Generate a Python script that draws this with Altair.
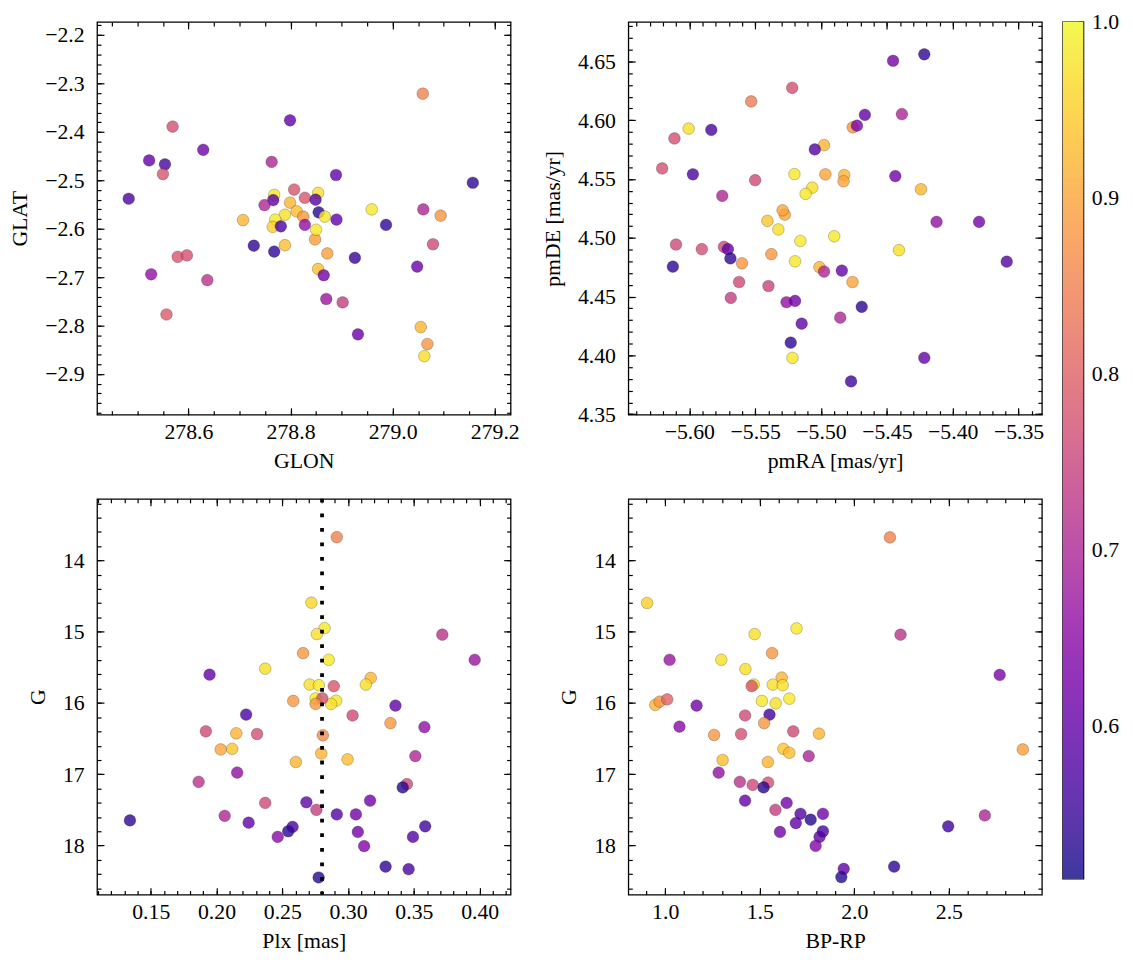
import math
import altair as alt
import pandas as pd

FONT = "Liberation Serif"
FS = 22
PROB_DOMAIN = [0.513, 1.0]

# ---------------- Top-left: GLON / GLAT ----------------
tl_glon = [278.569, 278.629, 278.523, 278.554, 278.550, 278.483, 278.799, 278.763, 278.579, 278.597,
           278.527, 278.637, 278.557, 278.707, 278.728, 278.768, 278.789, 278.768, 278.766, 278.749,
           278.807, 278.799, 278.789, 278.770, 278.765, 278.781, 278.812, 278.828, 278.825, 278.828,
           278.854, 278.849, 278.855, 278.867, 278.889, 278.890, 278.959, 278.987, 279.059, 279.157,
           279.060, 279.094, 279.079, 278.926, 279.048, 278.854, 278.865, 278.872, 278.848, 278.850,
           278.870, 278.902, 278.932, 279.055, 279.068, 279.062]
tl_glat = [-2.389, -2.437, -2.459, -2.467, -2.487, -2.538, -2.376, -2.462, -2.658, -2.655,
           -2.694, -2.706, -2.777, -2.582, -2.635, -2.647, -2.634, -2.530, -2.541, -2.551,
           -2.519, -2.546, -2.571, -2.581, -2.596, -2.595, -2.564, -2.536, -2.575, -2.592,
           -2.526, -2.540, -2.566, -2.575, -2.489, -2.581, -2.560, -2.592, -2.321, -2.505,
           -2.560, -2.573, -2.632, -2.660, -2.678, -2.683, -2.696, -2.651, -2.622, -2.602,
           -2.745, -2.752, -2.818, -2.803, -2.838, -2.863]
tl_prob = [0.77, 0.62, 0.60, 0.57, 0.78, 0.57, 0.60, 0.70, 0.78, 0.77,
           0.66, 0.72, 0.79, 0.92, 0.54, 0.54, 0.93, 0.98, 0.59, 0.70,
           0.78, 0.92, 0.97, 0.98, 0.95, 0.57, 0.93, 0.78, 0.88, 0.66,
           0.97, 0.58, 0.53, 0.98, 0.60, 0.60, 0.98, 0.54, 0.85, 0.54,
           0.70, 0.88, 0.76, 0.55, 0.61, 0.93, 0.62, 0.89, 0.89, 0.98,
           0.67, 0.74, 0.61, 0.92, 0.88, 0.97]

# ---------------- Top-right: pmRA / pmDE ----------------
tr_pmra = [-5.5219, -5.5530, -5.6005, -5.5833, -5.6113, -5.4977, -5.5047, -5.6206, -5.5973, -5.5500,
           -5.5202, -5.4967, -5.5750, -5.5067, -5.5117, -5.5275, -5.5292, -5.5407, -5.5324, -5.5157,
           -5.4900, -5.6101, -5.5905, -5.5737, -5.5707, -5.5688, -5.6125, -5.5600, -5.5377, -5.5197,
           -5.5012, -5.4977, -5.5622, -5.5685, -5.5399, -5.5262, -5.5197, -5.5147, -5.5230, -5.5217,
           -5.4854, -5.4453, -5.4216, -5.4667, -5.4386, -5.4759, -5.4727, -5.4824, -5.4829, -5.4436,
           -5.4241, -5.4123, -5.3800, -5.4408, -5.3590, -5.4842, -5.4761, -5.4691, -5.4216, -5.4772]
tr_pmde = [4.6276, 4.6160, 4.5929, 4.5918, 4.5845, 4.5788, 4.5752, 4.5590, 4.5540, 4.5490,
           4.5542, 4.5540, 4.5357, 4.5427, 4.5374, 4.5197, 4.5234, 4.5144, 4.5071, 4.4973,
           4.5013, 4.4943, 4.4903, 4.4923, 4.4903, 4.4825, 4.4755, 4.4783, 4.4861, 4.4800,
           4.4750, 4.4713, 4.4624, 4.4489, 4.4590, 4.4452, 4.4463, 4.4270, 4.4108, 4.3979,
           4.4321, 4.6506, 4.6561, 4.6046, 4.6052, 4.5940, 4.5954, 4.5534, 4.5481, 4.5525,
           4.5413, 4.5136, 4.5136, 4.4895, 4.4797, 4.4721, 4.4624, 4.4413, 4.3979, 4.3778]
tr_prob = [0.77, 0.84, 0.97, 0.57, 0.77, 0.92, 0.58, 0.77, 0.57, 0.76,
           0.98, 0.90, 0.70, 0.97, 0.98, 0.90, 0.90, 0.94, 0.97, 0.98,
           0.98, 0.76, 0.77, 0.75, 0.60, 0.54, 0.54, 0.88, 0.88, 0.98,
           0.92, 0.70, 0.76, 0.74, 0.75, 0.66, 0.62, 0.60, 0.54, 0.98,
           0.70, 0.62, 0.54, 0.60, 0.70, 0.88, 0.63, 0.92, 0.90, 0.62,
           0.92, 0.66, 0.62, 0.97, 0.58, 0.60, 0.90, 0.54, 0.60, 0.56]

# ---------------- Bottom-left: Plx / G ----------------
bl_plx = [0.1342, 0.1947, 0.2370, 0.2583, 0.2225, 0.1919, 0.2150, 0.2308, 0.2032, 0.2119,
          0.2603, 0.2157, 0.1864, 0.2370, 0.2062, 0.2244, 0.2578, 0.2545, 0.2465, 0.2683,
          0.2914, 0.2721, 0.2821, 0.2763, 0.2658, 0.2853, 0.3716, 0.3962, 0.3172, 0.3135,
          0.2708, 0.2778, 0.2891, 0.2753, 0.2909, 0.2871, 0.2804, 0.2753, 0.3360, 0.3034,
          0.3322, 0.3580, 0.2808, 0.2796, 0.2996, 0.3511, 0.3447, 0.3415, 0.3167, 0.2759,
          0.2914, 0.3059, 0.3586, 0.3074, 0.3493, 0.3122, 0.3285, 0.3460, 0.2776]
bl_g = [17.649, 15.603, 15.519, 15.972, 16.163, 16.399, 16.426, 16.436, 16.653, 16.644,
        16.829, 16.977, 17.107, 17.403, 17.584, 17.681, 17.741, 17.801, 17.880, 17.394,
        13.672, 14.593, 14.950, 15.033, 15.301, 15.394, 15.042, 15.394, 15.649, 15.742,
        15.742, 15.751, 15.764, 15.936, 15.968, 16.014, 15.936, 16.014, 16.037, 16.176,
        16.283, 16.339, 16.454, 16.709, 16.792, 16.746, 17.139, 17.186, 17.371, 17.500,
        17.565, 17.565, 17.732, 17.811, 17.880, 18.010, 18.297, 18.334, 18.450]
bl_prob = [0.54, 0.60, 0.97, 0.88, 0.57, 0.76, 0.92, 0.77, 0.90, 0.94,
           0.92, 0.66, 0.72, 0.76, 0.70, 0.60, 0.57, 0.54, 0.65, 0.60,
           0.85, 0.96, 0.98, 0.97, 0.88, 0.98, 0.72, 0.67, 0.92, 0.97,
           0.97, 0.98, 0.78, 0.98, 0.98, 0.97, 0.77, 0.88, 0.60, 0.76,
           0.88, 0.66, 0.86, 0.92, 0.93, 0.70, 0.76, 0.53, 0.62, 0.74,
           0.58, 0.62, 0.56, 0.62, 0.58, 0.64, 0.54, 0.57, 0.53]
plx_line = [0.2802]

# ---------------- Bottom-right: BP-RP / G ----------------
br_bprp = [0.9042, 1.6944, 1.4730, 1.5651, 1.0230, 1.2967, 1.4239, 1.6159, 1.4678, 1.4573,
           1.5688, 1.6211, 0.9477, 0.9707, 1.0105, 1.1659, 1.5113, 1.5845, 1.6562, 1.5516,
           1.4223, 1.5233, 1.0754, 1.2585, 1.4014, 1.6771, 1.8132, 1.6248, 1.6562, 1.7588,
           1.3035, 1.5427, 1.2826, 1.3946, 1.4626, 1.5442, 1.5202, 1.4223, 1.6421, 1.5829,
           1.7153, 1.8341, 1.7692, 1.6907, 1.6070, 1.8163, 1.8341, 1.7954, 2.1884, 2.2444,
           2.7687, 2.8911, 2.6902, 2.4965, 2.2107, 1.9440, 1.9315]
br_g = [14.597, 14.954, 15.033, 15.301, 15.394, 15.394, 15.524, 15.644, 15.742, 15.764,
        15.742, 15.751, 16.028, 15.982, 15.950, 16.037, 15.972, 16.005, 15.940, 16.163,
        16.176, 16.283, 16.333, 16.450, 16.436, 16.399, 16.431, 16.644, 16.699, 16.746,
        16.801, 16.829, 16.977, 17.107, 17.149, 17.117, 17.186, 17.371, 17.403, 17.500,
        17.556, 17.556, 17.639, 17.686, 17.811, 17.880, 17.801, 18.006, 13.676, 15.042,
        15.607, 16.653, 17.579, 17.732, 18.297, 18.329, 18.444]
br_prob = [0.95, 0.98, 0.97, 0.88, 0.67, 0.97, 0.97, 0.92, 0.97, 0.78,
           0.97, 0.97, 0.92, 0.88, 0.80, 0.62, 0.98, 0.97, 0.98, 0.56,
           0.76, 0.88, 0.65, 0.88, 0.77, 0.76, 0.92, 0.94, 0.93, 0.70,
           0.93, 0.92, 0.66, 0.72, 0.76, 0.77, 0.53, 0.60, 0.62, 0.74,
           0.58, 0.62, 0.53, 0.60, 0.62, 0.60, 0.57, 0.64, 0.85, 0.72,
           0.63, 0.89, 0.70, 0.56, 0.54, 0.60, 0.53]

# ---------------- tick label values ----------------
tl_xticks = [278.6, 278.8, 279.0, 279.2]
tl_yticks = [-2.9, -2.8, -2.7, -2.6, -2.5, -2.4, -2.3, -2.2]
tr_xticks = [-5.60, -5.55, -5.50, -5.45, -5.40, -5.35]
tr_yticks = [4.35, 4.40, 4.45, 4.50, 4.55, 4.60, 4.65]
bl_xticks = [0.15, 0.20, 0.25, 0.30, 0.35, 0.40]
g_ticks = [14, 15, 16, 17, 18]
br_xticks = [1.0, 1.5, 2.0, 2.5]
cb_ticks = [0.6, 0.7, 0.8, 0.9, 1.0]


def vals(lo, hi, step):
    lo, hi = min(lo, hi), max(lo, hi)
    a = math.ceil(lo / step - 1e-6)
    b = math.floor(hi / step + 1e-6)
    return [round(k * step, 6) for k in range(a, b + 1)]


def tick_axis(orient, values, size, title=None, tfs=None):
    kw = dict(orient=orient, values=values, labels=False, ticks=True, tickSize=size,
              offset=-size, domain=False, grid=False, tickColor="black", tickWidth=1.2)
    if title is None:
        kw["title"] = None
    else:
        kw["title"] = title
        kw["titleFontSize"] = tfs
        kw["titlePadding"] = 0
    return alt.Axis(**kw)


COLOR_SCALE = alt.Scale(scheme="plasma", domain=PROB_DOMAIN)


def panel(df, xf, yf, xdom, ydom, xmaj, xstep, ymaj, ystep, xfmt, yfmt,
          xtitle, ytitle, w, h, yrev=False, vline=None, top_hack=False):
    xs = alt.Scale(domain=xdom, nice=False, zero=False)
    ys = alt.Scale(domain=ydom, nice=False, zero=False, reverse=yrev)
    base = alt.Chart(df)
    pts = base.mark_circle(size=140, fillOpacity=0.8, stroke="black",
                           strokeWidth=0.5, strokeOpacity=0.45).encode(
        x=alt.X(f"{xf}:Q", scale=xs,
                axis=alt.Axis(orient="bottom", values=xmaj, format=xfmt, ticks=False,
                              domain=False, grid=False, labelFlush=False, labelOverlap=False,
                              labelPadding=7, title=xtitle, titlePadding=8)),
        y=alt.Y(f"{yf}:Q", scale=ys,
                axis=alt.Axis(orient="left", values=ymaj, format=yfmt, ticks=False,
                              domain=False, grid=False, labelFlush=False, labelOverlap=False,
                              labelPadding=13, title=ytitle, titlePadding=13)),
        color=alt.Color("prob:Q", scale=COLOR_SCALE, legend=None),
    )
    layers = [pts]
    xmin = vals(xdom[0], xdom[1], xstep)
    ymin = vals(ydom[0], ydom[1], ystep)
    specs = [("bottom", "left", xmaj, ymaj, 7), ("bottom", "left", xmin, ymin, 4),
             ("top", "right", xmaj, ymaj, 7), ("top", "right", xmin, ymin, 4)]
    for i, (ox, oy, xv, yv, L) in enumerate(specs):
        xv = [v for v in xv if min(xdom) - 1e-9 <= v <= max(xdom) + 1e-9]
        yv = [v for v in yv if min(ydom) - 1e-9 <= v <= max(ydom) + 1e-9]
        if top_hack and i == 2:
            xa = tick_axis(ox, xv, L, title=" ", tfs=11)
        else:
            xa = tick_axis(ox, xv, L)
        layers.append(base.mark_point(opacity=0).encode(
            x=alt.X(f"{xf}:Q", scale=xs, axis=xa),
            y=alt.Y(f"{yf}:Q", scale=ys, axis=tick_axis(oy, yv, L)),
        ))
    if vline is not None:
        ldf = pd.DataFrame({xf: vline, yf: [sum(ydom) / 2]})
        layers.append(alt.Chart(ldf).mark_rule(color="black", strokeWidth=3.8,
                                               strokeDash=[3.8, 10.9]).encode(
            x=alt.X(f"{xf}:Q", scale=xs, axis=None)))
    return alt.layer(*layers).resolve_axis(x="independent", y="independent").properties(
        width=w, height=h)


df_tl = pd.DataFrame({"glon": tl_glon, "glat": tl_glat, "prob": tl_prob})
df_tr = pd.DataFrame({"pmra": tr_pmra, "pmde": tr_pmde, "prob": tr_prob})
df_bl = pd.DataFrame({"plx": bl_plx, "g": bl_g, "prob": bl_prob})
df_br = pd.DataFrame({"bprp": br_bprp, "g": br_g, "prob": br_prob})

G_DOM = [13.135, 18.69]

tl = panel(df_tl, "glon", "glat", [278.421, 279.231], [-2.984, -2.173],
           tl_xticks, 0.05, tl_yticks, 0.02, ".1f", ".1f", "GLON", "GLAT", 418, 397,
           top_hack=True)
tr = panel(df_tr, "pmra", "pmde", [-5.6463, -5.3323], [4.3495, 4.6836],
           tr_xticks, 0.01, tr_yticks, 0.01, ".2f", ".2f", "pmRA [mas/yr]", "pmDE [mas/yr]",
           418, 397)
bl = panel(df_bl, "plx", "g", [0.1092, 0.4235], G_DOM,
           bl_xticks, 0.01, g_ticks, 0.2, ".2f", "d", "Plx [mas]", "G", 418, 400,
           yrev=True, vline=plx_line)
br = panel(df_br, "bprp", "g", [0.805, 2.992], G_DOM,
           br_xticks, 0.1, g_ticks, 0.2, ".1f", "d", "BP-RP", "G", 418, 400, yrev=True)

grid = alt.concat(tl, tr, bl, br, columns=2, spacing={"row": 85, "column": 119},
                  bounds="flush")

# ---------------- colour bar ----------------
CB_W = 21
N = 300
step = (PROB_DOMAIN[1] - PROB_DOMAIN[0]) / N
cb_v = [PROB_DOMAIN[0] + i * step for i in range(N)]
cb_v2 = [min(v + 1.8 * step, PROB_DOMAIN[1]) for v in cb_v]
cb_df = pd.DataFrame({"v": cb_v, "v2": cb_v2, "xa": [0.0] * N, "xb": [1.0] * N})
veil_df = pd.DataFrame({"v": [PROB_DOMAIN[0]], "v2": [PROB_DOMAIN[1]], "xa": [0.0], "xb": [1.0]})
cbs = alt.Scale(domain=PROB_DOMAIN, nice=False, zero=False)
cbx = alt.Scale(domain=[0, 1], nice=False, zero=False)
cb_base = alt.Chart(cb_df)
cb_rect = cb_base.mark_rect(clip=True).encode(
    x=alt.X("xa:Q", scale=cbx, axis=None), x2="xb:Q",
    y=alt.Y("v:Q", scale=cbs,
            axis=alt.Axis(orient="right", values=cb_ticks, format=".1f", ticks=False,
                          domain=False, grid=False, labelFlush=False, labelOverlap=False,
                          labelPadding=8, title=None)),
    y2="v2:Q",
    color=alt.Color("v:Q", scale=COLOR_SCALE, legend=None),
)
# white veil: reproduces the 0.8 alpha of the colour bar without seams
cb_veil = alt.Chart(veil_df).mark_rect(color="white", opacity=0.2).encode(
    x=alt.X("xa:Q", scale=cbx, axis=None), x2="xb:Q",
    y=alt.Y("v:Q", scale=cbs, axis=None), y2="v2:Q",
)
cb_minor = vals(PROB_DOMAIN[0], PROB_DOMAIN[1], 0.02)
cb_maj_t = cb_base.mark_point(opacity=0).encode(
    x=alt.X("xa:Q", scale=cbx, axis=None),
    y=alt.Y("v:Q", scale=cbs, axis=tick_axis("right", cb_ticks, 6)))
cb_min_t = cb_base.mark_point(opacity=0).encode(
    x=alt.X("xa:Q", scale=cbx, axis=None),
    y=alt.Y("v:Q", scale=cbs, axis=tick_axis("right", cb_minor, 4)))
cbar = alt.layer(cb_rect, cb_veil, cb_maj_t, cb_min_t).resolve_axis(y="independent").properties(
    width=CB_W, height=866)

chart = alt.hconcat(grid, cbar, spacing=14).properties(
    padding={"left": 0, "top": -4, "right": 5, "bottom": 2},
    background="white",
).configure(font=FONT).configure_view(stroke="black", strokeWidth=1.3).configure_axis(
    labelFont=FONT, titleFont=FONT, labelFontSize=FS, titleFontSize=FS,
    titleFontWeight="normal", labelColor="black", titleColor="black",
    tickColor="black", tickWidth=1.2,
)

chart.save("out.html", embed_options={"renderer": "svg", "actions": False})
